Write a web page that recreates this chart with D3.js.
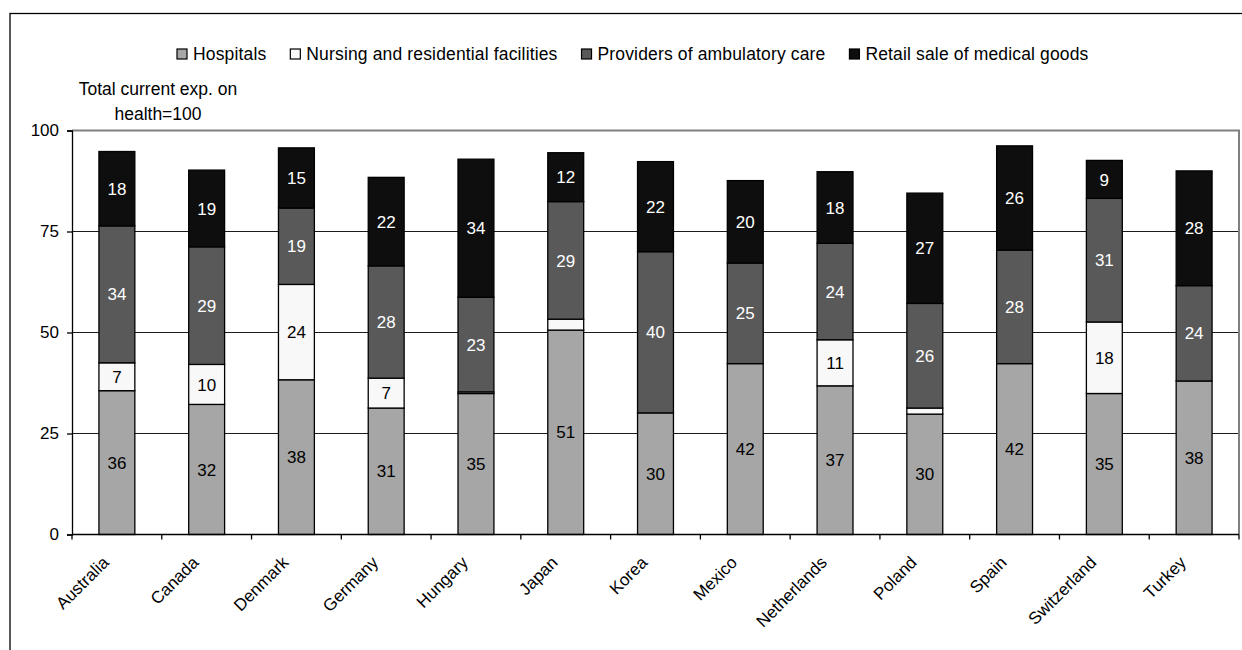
<!DOCTYPE html>
<html>
<head>
<meta charset="utf-8">
<script src="https://cdn.jsdelivr.net/npm/d3@7"></script>
<style>
html,body{margin:0;padding:0;background:#fff;}
svg{display:block;font-family:"Liberation Sans",Arial,sans-serif;}
</style>
</head>
<body>
<svg id="chart" width="1242" height="650"></svg>
<script>
const categories = ["Australia","Canada","Denmark","Germany","Hungary","Japan","Korea","Mexico","Netherlands","Poland","Spain","Switzerland","Turkey"];
const seriesNames = ["Hospitals","Nursing and residential facilities","Providers of ambulatory care","Retail sale of medical goods"];
const hospitals  = [35.6, 32.2, 38.3, 31.3, 34.9, 50.6, 30.1, 42.3, 36.8, 29.8, 42.3, 34.9, 38.0];
const nursing    = [6.9, 9.9, 23.6, 7.4, 0.4, 2.7, 0, 0, 11.4, 1.5, 0, 17.7, 0];
const ambulatory = [33.9, 29.1, 18.9, 27.8, 23.4, 29.1, 39.9, 24.9, 23.9, 25.9, 28.1, 30.6, 23.6];
const retail     = [18.4, 19.0, 14.9, 21.9, 34.2, 12.1, 22.3, 20.4, 17.7, 27.3, 25.8, 9.4, 28.4];
const yTicks = [0, 25, 50, 75, 100];
const yTitle = ["Total current exp. on", "health=100"];

const colors = ["#a6a6a6", "#f8f8f8", "#595959", "#0e0e0e"];
const labelColors = ["#000", "#000", "#fff", "#fff"];

(function(){
const svg = d3.select("#chart");
svg.append("rect").attr("width",1242).attr("height",650).attr("fill","#fff");
// outer frame
svg.append("rect").attr("x",10).attr("y",13.5).attr("width",1400).attr("height",800)
  .attr("fill","none").attr("stroke","#000").attr("stroke-width",1.3);

const pL = 72, pR = 1239, pT = 130.5, pB = 534.5;
const x = d3.scaleBand().domain(categories).range([pL, pR]).paddingInner(0.6).paddingOuter(0.3);
const y = d3.scaleLinear().domain([0, 100]).range([pB, pT]);

// gridlines
svg.append("g").selectAll("line").data(yTicks.filter(t => t > 0 && t < 100)).join("line")
  .attr("x1", pL).attr("x2", pR).attr("y1", d => y(d)).attr("y2", d => y(d))
  .attr("stroke", "#1a1a1a").attr("stroke-width", 1);
// plot border top & right (gray)
svg.append("path").attr("d", `M${pL},${y(100)}H${pR}V${pB}`)
  .attr("fill","none").attr("stroke","#808080").attr("stroke-width",2);

// stacked data
const stackData = categories.map((c, i) => ({cat: c, 0: hospitals[i], 1: nursing[i], 2: ambulatory[i], 3: retail[i]}));
const stack = d3.stack().keys([0,1,2,3])(stackData);

const fmt = d3.format(".0f");
stack.forEach((layer, k) => {
  const g = svg.append("g");
  g.selectAll("rect").data(layer.filter(d => d[1] - d[0] > 0)).join("rect")
    .attr("x", d => x(d.data.cat)).attr("width", x.bandwidth())
    .attr("y", d => y(d[1])).attr("height", d => y(d[0]) - y(d[1]))
    .attr("fill", colors[k]).attr("stroke", "#000").attr("stroke-width", 1.3);
  g.selectAll("text").data(layer.filter(d => d[1] - d[0] >= 5)).join("text")
    .attr("x", d => x(d.data.cat) + x.bandwidth()/2)
    .attr("y", d => (y(d[0]) + y(d[1]))/2)
    .attr("dy", "0.36em")
    .attr("text-anchor", "middle").attr("font-size", 17).attr("fill", labelColors[k])
    .text(d => fmt(d[1] - d[0]));
});

// y axis
const yAxis = svg.append("g").attr("transform", `translate(${pL},0)`)
  .call(d3.axisLeft(y).tickValues(yTicks).tickSize(5).tickPadding(8));
yAxis.select(".domain").attr("stroke","#000").attr("stroke-width",1.3);
yAxis.selectAll(".tick line").attr("stroke","#000").attr("stroke-width",1.3);
yAxis.selectAll(".tick text").attr("font-size",17).attr("fill","#000").attr("font-family","Liberation Sans, Arial, sans-serif");

// x axis line and ticks at category boundaries
svg.append("line").attr("x1", pL).attr("x2", pR).attr("y1", pB).attr("y2", pB)
  .attr("stroke","#000").attr("stroke-width",1.3);
const bounds = categories.map(c => x(c) + x.bandwidth()/2 - x.step()/2).concat([pR]);
svg.append("g").selectAll("line").data(bounds).join("line")
  .attr("x1", d => d).attr("x2", d => d).attr("y1", pB).attr("y2", pB + 5)
  .attr("stroke","#000").attr("stroke-width",1.3);
svg.append("g").selectAll("text").data(categories).join("text")
  .attr("transform", c => `translate(${x(c) + x.bandwidth()/2 - 7},${pB + 29}) rotate(-45)`)
  .attr("text-anchor","end").attr("font-size",17).attr("fill","#000").text(c => c);

// y title
svg.append("g").selectAll("text").data(yTitle).join("text")
  .attr("x", 158).attr("y", (d, i) => 95 + i*25).attr("text-anchor","middle")
  .attr("font-size",17.5).attr("fill","#000").text(d => d);

// legend
const leg = svg.append("g");
let lx = 177;
seriesNames.forEach((name, k) => {
  leg.append("rect").attr("x", lx).attr("y", 49).attr("width", 10).attr("height", 10)
    .attr("fill", colors[k]).attr("stroke", "#000").attr("stroke-width", 1.2);
  const t = leg.append("text").attr("x", lx + 16).attr("y", 59.5).attr("font-size", 17.5)
    .attr("letter-spacing", 0.15).attr("fill","#000").text(name);
  lx += 16 + t.node().getComputedTextLength() + 24;
});
})();
</script>
</body>
</html>
